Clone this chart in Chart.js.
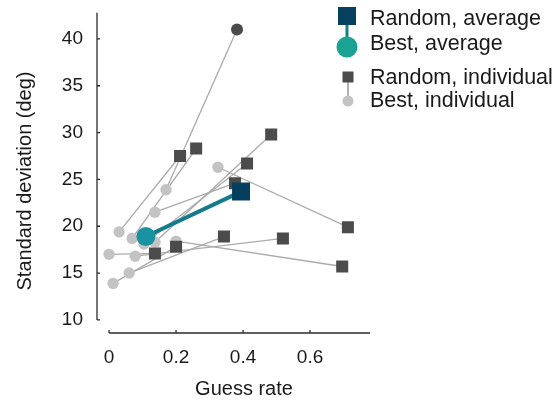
<!DOCTYPE html>
<html>
<head>
<meta charset="utf-8">
<script src="https://cdn.jsdelivr.net/npm/chart.js@4.4.0/dist/chart.umd.min.js"></script>
<style>
  html, body { margin: 0; padding: 0; background: #fff; }
  #wrap { width: 558px; height: 402px; }
</style>
</head>
<body>
<div id="wrap"><canvas id="scatter" width="558" height="402"></canvas></div>
<script>
// one entry per individual: best-condition point and random-condition point
const bestX = [0.030, 0.069, 0.000, 0.078, 0.060, 0.012, 0.137, 0.170, 0.325, 0.200, 0.104, 0.137];
const bestY = [19.4, 18.7, 17.0, 16.8, 15.0, 13.9, 21.5, 23.9, 26.3, 18.4, 18.1, 18.3];
const randX = [0.212, 0.260, 0.137, 0.519, 0.343, 0.200, 0.376, 0.382, 0.713, 0.696, 0.412, 0.484];
const randY = [27.5, 28.3, 17.1, 18.7, 18.9, 17.8, 24.6, 41.0, 19.9, 15.7, 26.7, 29.8];
const randMarker = ['rect', 'rect', 'rect', 'rect', 'rect', 'rect', 'rect', 'circle', 'rect', 'rect', 'rect', 'rect'];

// group averages
const bestAvg = [0.110, 18.9];
const randAvg = [0.394, 23.7];

const xTicks = [0, 0.2, 0.4, 0.6];
const xTickLabels = ['0', '0.2', '0.4', '0.6'];
const yTicks = [10, 15, 20, 25, 30, 35, 40];
const legendLabels = ['Random, average', 'Best, average', 'Random, individual', 'Best, individual'];

const FONT = "'Liberation Sans', Arial, Helvetica, sans-serif";
Chart.defaults.font.family = FONT;
Chart.defaults.color = '#1a1a1a';

const pairLines = bestX.map((bx, i) => ({
    data: [{x: bx, y: bestY[i]}, {x: randX[i], y: randY[i]}],
    showLine: true,
    borderColor: '#ababab',
    borderWidth: 1.3,
    pointRadius: 0,
    order: 10
}));

const datasets = pairLines.concat([
    {
        label: 'Best, individual',
        data: bestX.map((x, i) => ({x: x, y: bestY[i]})),
        pointStyle: 'circle',
        pointRadius: 5.7,
        backgroundColor: '#c3c3c3',
        borderWidth: 0,
        order: 6
    },
    {
        label: 'Random, individual',
        data: randX.map((x, i) => ({x: x, y: randY[i]})),
        pointStyle: randMarker,
        pointRadius: randMarker.map(m => m === 'rect' ? 8.5 : 6),
        backgroundColor: '#4b4b4b',
        borderWidth: 0,
        order: 5
    },
    {
        data: [{x: bestAvg[0], y: bestAvg[1]}, {x: randAvg[0], y: randAvg[1]}],
        showLine: true,
        borderColor: '#147b8b',
        borderWidth: 4,
        pointRadius: 0,
        order: 4
    },
    {
        label: 'Random, average',
        data: [{x: randAvg[0], y: randAvg[1]}],
        pointStyle: 'rect',
        pointRadius: 12.7,
        backgroundColor: '#053f5e',
        borderWidth: 0,
        order: 3
    },
    {
        label: 'Best, average',
        data: [{x: bestAvg[0], y: bestAvg[1]}],
        pointStyle: 'circle',
        pointRadius: 9.5,
        backgroundColor: '#1993a1',
        borderWidth: 0,
        order: 2
    }
]);

// offset axis lines, inward ticks, titles and the legend
const decor = {
    id: 'decor',
    beforeDatasetsDraw(chart) {
        const ctx = chart.ctx;
        const xs = chart.scales.x, ys = chart.scales.y;
        ctx.save();
        ctx.strokeStyle = '#2b2b2b';
        ctx.lineWidth = 1.3;
        ctx.beginPath();
        ctx.moveTo(xs.left, ys.getPixelForValue(yTicks[0]));
        ctx.lineTo(xs.left, ys.top);
        ctx.moveTo(xs.getPixelForValue(xTicks[0]), ys.bottom);
        ctx.lineTo(xs.right, ys.bottom);
        yTicks.forEach(v => {
            const py = ys.getPixelForValue(v);
            ctx.moveTo(xs.left, py);
            ctx.lineTo(xs.left + 3, py);
        });
        xTicks.forEach(v => {
            const px = xs.getPixelForValue(v);
            ctx.moveTo(px, ys.bottom);
            ctx.lineTo(px, ys.bottom - 3);
        });
        ctx.stroke();
        ctx.restore();
    },
    afterDraw(chart) {
        const ctx = chart.ctx;
        ctx.save();
        ctx.fillStyle = '#1a1a1a';
        ctx.font = '20px ' + FONT;
        ctx.textAlign = 'center';
        ctx.textBaseline = 'middle';
        ctx.fillText('Guess rate', 244, 389);
        ctx.save();
        ctx.translate(25, 181);
        ctx.rotate(-Math.PI / 2);
        ctx.fillText('Standard deviation (deg)', 0, 0);
        ctx.restore();

        // legend
        const lx = 347;
        ctx.strokeStyle = '#177f82';
        ctx.lineWidth = 3;
        ctx.beginPath(); ctx.moveTo(lx, 16); ctx.lineTo(lx, 47); ctx.stroke();
        ctx.fillStyle = '#073f5e';
        ctx.fillRect(lx - 9, 7, 18, 18);
        ctx.fillStyle = '#1aa392';
        ctx.beginPath(); ctx.arc(lx, 47, 10.5, 0, Math.PI * 2); ctx.fill();

        ctx.strokeStyle = '#b0b0b0';
        ctx.lineWidth = 2;
        ctx.beginPath(); ctx.moveTo(lx + 1, 77); ctx.lineTo(lx + 1, 100); ctx.stroke();
        ctx.fillStyle = '#4b4b4b';
        ctx.fillRect(lx + 1 - 5.5, 71.5, 11, 11);
        ctx.fillStyle = '#c3c3c3';
        ctx.beginPath(); ctx.arc(lx + 1, 101, 5.5, 0, Math.PI * 2); ctx.fill();

        ctx.fillStyle = '#1a1a1a';
        ctx.font = '21.5px ' + FONT;
        ctx.textAlign = 'left';
        ctx.textBaseline = 'alphabetic';
        ctx.fillText(legendLabels[0], 370, 25);
        ctx.fillText(legendLabels[1], 370, 50);
        ctx.fillText(legendLabels[2], 370, 84);
        ctx.fillText(legendLabels[3], 370, 107);
        ctx.restore();
    }
};

const chart = new Chart(document.getElementById('scatter').getContext('2d'), {
    type: 'scatter',
    data: { datasets: datasets },
    options: {
        responsive: false,
        animation: false,
        events: [],
        layout: { padding: { top: 12, right: 188, left: 0, bottom: 0 } },
        plugins: { legend: { display: false }, tooltip: { enabled: false } },
        scales: {
            x: {
                type: 'linear',
                min: -0.036,
                max: 0.779,
                grid: { display: false, drawTicks: false },
                border: { display: false },
                afterBuildTicks: s => { s.ticks = xTicks.map(v => ({value: v})); },
                afterFit: s => { s.height = 69; s.paddingLeft = 0; s.paddingRight = 0; },
                ticks: {
                    padding: 13,
                    font: { size: 19 },
                    color: '#1a1a1a',
                    callback: v => xTickLabels[xTicks.indexOf(v)]
                }
            },
            y: {
                type: 'linear',
                min: 8.6,
                max: 42.8,
                grid: { display: false, drawTicks: false },
                border: { display: false },
                afterBuildTicks: s => { s.ticks = yTicks.map(v => ({value: v})); },
                afterFit: s => { s.width = 97; s.paddingTop = 0; s.paddingBottom = 0; },
                ticks: {
                    padding: 14,
                    font: { size: 19 },
                    color: '#1a1a1a'
                }
            }
        }
    },
    plugins: [decor]
});
</script>
</body>
</html>
